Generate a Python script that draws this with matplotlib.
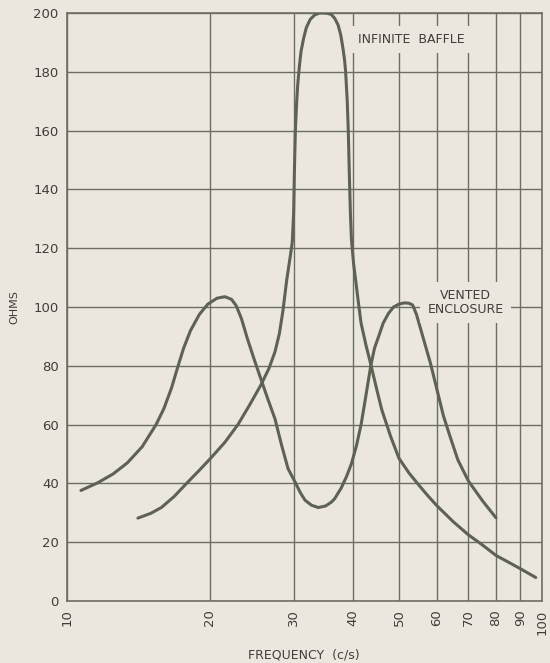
import numpy as np
import matplotlib
matplotlib.use("Agg")
import matplotlib.pyplot as plt

# values (frequency in c/s, impedance in ohms)
baffle_freq = [14.1, 15.0, 15.8, 16.8, 17.9, 19.0, 20.1, 21.5, 22.9, 24.2, 25.6,
               26.6, 27.4, 28.0, 28.5, 29.0, 29.5, 29.8, 30.0, 30.1, 30.25, 30.45,
               30.6, 30.85, 31.1, 31.5, 31.9, 32.5, 33.2, 34.0, 34.6, 35.3, 36.0,
               36.6, 37.2, 37.7, 38.1, 38.4, 38.6, 38.9, 39.1, 39.3, 39.5, 39.7,
               40.1, 40.6, 41.1, 41.6, 42.6, 43.6, 44.8, 46.0, 48.0, 50.0, 52.5,
               55.0, 57.5, 60.0, 65.0, 70.0, 75.0, 80.0, 85.0, 90.0, 97.0]
baffle_ohms = [28.2, 29.8, 31.8, 35.5, 40.2, 44.5, 48.7, 54.0, 60.0, 66.5, 73.5,
               79.0, 84.7, 91.0, 99.0, 109.0, 117.0, 122.0, 132.0, 145.0, 160.0, 170.0,
               175.6, 182.0, 187.0, 191.5, 195.0, 197.8, 199.3, 200.0, 200.0, 199.9, 199.5,
               198.2, 196.0, 192.5, 188.0, 184.0, 180.0, 170.0, 160.0, 145.0, 132.0, 123.0,
               115.0, 108.0, 101.0, 94.5, 87.0, 80.5, 72.5, 65.0, 56.0, 48.5, 43.5,
               39.5, 35.8, 32.5, 27.0, 22.5, 19.0, 15.5, 13.2, 11.0, 8.0]

vented_freq = [10.7, 11.6, 12.5, 13.4, 14.4, 15.4, 16.0, 16.6, 17.1, 17.6, 18.2,
               19.0, 19.8, 20.7, 21.5, 22.2, 22.7, 23.3, 24.0, 24.8, 25.6, 26.5,
               27.4, 28.3, 29.2, 30.2, 31.0, 31.7, 32.7, 33.8, 35.0, 36.0, 36.6,
               37.8, 38.8, 39.7, 40.7, 41.6, 42.6, 43.6, 44.4, 45.3, 46.3, 47.5,
               48.7, 50.0, 51.3, 52.4, 53.4, 54.4, 55.6, 56.9, 58.2, 60.5, 62.0,
               63.9, 66.5, 70.0, 75.0, 80.0]
vented_ohms = [37.6, 40.2, 43.2, 47.0, 52.5, 60.0, 65.5, 72.5, 79.5, 86.0, 92.0,
               97.5, 101.0, 103.0, 103.5, 102.6, 100.5, 96.0, 89.0, 82.0, 75.5, 68.5,
               62.0, 53.0, 45.0, 40.5, 36.8, 34.3, 32.6, 31.8, 32.3, 33.6, 34.8,
               38.5, 42.5, 46.7, 53.0, 60.0, 70.0, 80.0, 86.0, 90.0, 94.5, 97.8,
               100.0, 101.0, 101.4, 101.3, 100.7, 97.5, 92.2, 86.5, 81.0, 70.0, 63.0,
               56.4, 48.0, 40.8, 34.0, 28.3]

x_ticks = [10, 20, 30, 40, 50, 60, 70, 80, 90, 100]
y_ticks = [0, 20, 40, 60, 80, 100, 120, 140, 160, 180, 200]

paper = "#ece7de"
ink = "#5d6253"
grid_ink = "#6d6e62"
text_ink = "#3d3f38"

plt.rcParams["font.family"] = ["DejaVu Sans"]

fig = plt.figure(figsize=(5.5, 6.63), dpi=100, facecolor=paper)
ax = fig.add_axes([0.1218, 0.0935, 0.8637, 0.8869], facecolor=paper)

ax.set_xscale("log")
ax.set_xlim(10, 100)
ax.set_ylim(0, 200)

# grid
for xv in x_ticks:
    ax.axvline(xv, color=grid_ink, lw=1.0, zorder=1)
for yv in y_ticks:
    ax.axhline(yv, color=grid_ink, lw=1.0, zorder=1)

ax.plot(baffle_freq, baffle_ohms, color=ink, lw=2.2, solid_capstyle="round",
        solid_joinstyle="round", zorder=3)
ax.plot(vented_freq, vented_ohms, color=ink, lw=2.2, solid_capstyle="round",
        solid_joinstyle="round", zorder=3)

# labels on the chart (boxes blank out the grid behind them)
ax.text(41.0, 191, "INFINITE  BAFFLE", fontsize=9, color=text_ink,
        ha="left", va="center", zorder=4,
        bbox=dict(facecolor=paper, edgecolor="none", pad=5))
ax.text(69, 101.5, "VENTED\nENCLOSURE", fontsize=9, color=text_ink,
        ha="center", va="center", linespacing=1.1, zorder=4,
        bbox=dict(facecolor=paper, edgecolor="none", pad=5))

ax.set_xticks(x_ticks)
ax.set_xticklabels([str(v) for v in x_ticks], rotation=90)
ax.xaxis.set_minor_locator(matplotlib.ticker.NullLocator())
ax.set_yticks(y_ticks)
ax.tick_params(length=0, labelsize=9.5, colors=text_ink, pad=6)

for s in ax.spines.values():
    s.set_color(grid_ink)
    s.set_linewidth(1.2)

# axis titles placed in figure coords so they sit where the scan has them
fig.text(0.553, 1 - 655 / 663, "FREQUENCY  (c/s)", fontsize=9, color=text_ink,
         ha="center", va="center")
fig.text(14 / 550, 0.537, "OHMS", fontsize=8, color=text_ink,
         ha="center", va="center", rotation=90)

fig.savefig("out.png", dpi=100, facecolor=paper)
